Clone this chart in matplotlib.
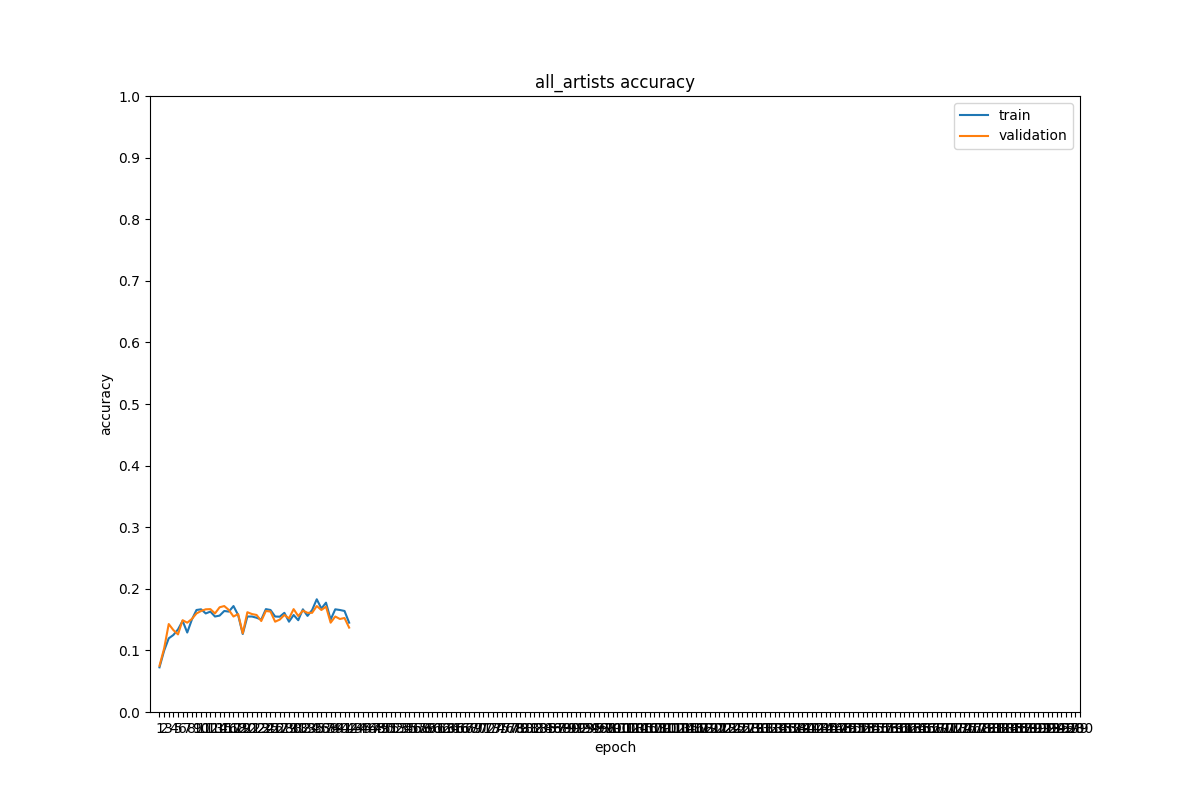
import matplotlib
matplotlib.use("Agg")
import matplotlib.pyplot as plt
import numpy as np

train_acc = [0.0725, 0.0995, 0.1196, 0.125, 0.134, 0.148, 0.129, 0.150, 0.1656, 0.1667,
             0.160, 0.163, 0.155, 0.1565, 0.164, 0.163, 0.172, 0.1575, 0.1266, 0.155,
             0.155, 0.153, 0.150, 0.167, 0.1656, 0.155, 0.1547, 0.161, 0.1466, 0.1575,
             0.149, 0.1667, 0.156, 0.1656, 0.183, 0.168, 0.1775, 0.150, 0.1667, 0.1656,
             0.164, 0.145]
val_acc = [0.075, 0.103, 0.1428, 0.133, 0.126, 0.149, 0.145, 0.151, 0.160, 0.164,
           0.1667, 0.167, 0.160, 0.170, 0.172, 0.1656, 0.155, 0.159, 0.1277, 0.162,
           0.159, 0.1575, 0.1477, 0.164, 0.163, 0.1466, 0.150, 0.1575, 0.152, 0.167,
           0.1558, 0.1645, 0.161, 0.161, 0.172, 0.1656, 0.171, 0.145, 0.155, 0.151,
           0.1526, 0.137]
epochs = list(range(1, len(train_acc) + 1))
tick_epochs = list(range(1, 201))
yticks = [i / 10 for i in range(11)]

fig, ax = plt.subplots(figsize=(12, 8), dpi=100)
ax.plot(epochs, train_acc, label="train")
ax.plot(epochs, val_acc, label="validation")
ax.set_xticks(tick_epochs)
ax.set_yticks(yticks)
ax.set_ylim(0, 1)
ax.set_title("all_artists accuracy")
ax.set_xlabel("epoch")
ax.set_ylabel("accuracy")
ax.legend(loc="upper right")
fig.savefig("out.png", dpi=100)
